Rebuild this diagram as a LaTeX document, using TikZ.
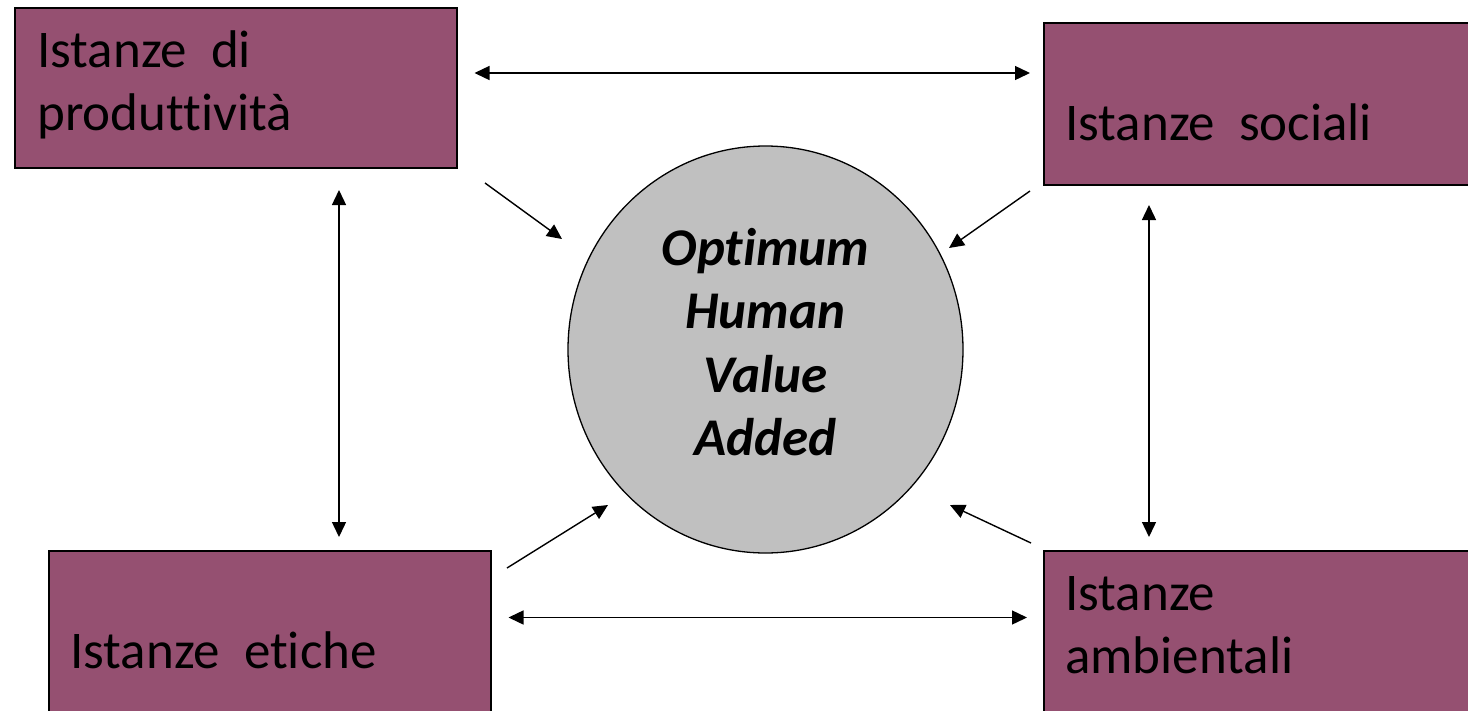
\documentclass[tikz,border=0pt]{standalone}
\usepackage{fontspec}
\setmainfont[Ligatures={NoCommon}]{Carlito}
\usetikzlibrary{arrows.meta,shapes.geometric}
\definecolor{boxfill}{RGB}{149,80,113}
\definecolor{circfill}{RGB}{192,192,192}
\tikzset{
  box/.style={draw=black,line width=1.3pt,fill=boxfill,rectangle,inner sep=0pt,minimum width=442pt},
  boxtext/.style={anchor=base west,inner sep=0pt,font=\fontsize{53}{63.5}\selectfont},
  circtext/.style={anchor=base,inner sep=0pt,font=\fontsize{53}{63.5}\selectfont\bfseries\itshape},
  link/.style={line width=1.4pt,-{Triangle[length=15pt,width=14pt]}},
  dlink/.style={line width=1.4pt,{Triangle[length=15pt,width=14pt]}-{Triangle[length=15pt,width=14pt]}}
}
\begin{document}
\begin{tikzpicture}[x=1pt,y=-1pt]
\clip (0,0) rectangle (1468,710);
\fill[white] (0,0) rectangle (1468,710);
% boxes
\node[box,minimum height=160pt] (prod) at (236,88) {};
\node[box,minimum height=162pt] (soc) at (1265,104) {};
\node[box,minimum height=162pt] (eti) at (270,632) {};
\node[box,minimum height=162pt] (amb) at (1265,632) {};
% box texts
\node[boxtext] (prodA) at (37,67) {Istanze\ \ di};
\node[boxtext] (prodB) at (37,130.5) {produttività};
\node[boxtext] (socA) at (1065,140) {Istanze\ \ sociali};
\node[boxtext] (etiA) at (70,668) {Istanze\ \ etiche};
\node[boxtext] (ambA) at (1065,610) {Istanze};
\node[boxtext] (ambB) at (1065,673.5) {ambientali};
% circle
\node[draw=black,line width=1.3pt,fill=circfill,ellipse,inner sep=0pt,minimum width=395pt,minimum height=407pt] (ohva) at (765.5,349.5) {};
\node[circtext] (t1) at (765.5,265) {Optimum};
\node[circtext] (t2) at (765.5,328.5) {Human};
\node[circtext] (t3) at (765.5,392) {Value};
\node[circtext] (t4) at (765.5,455.5) {Added};
% arrow end points
\coordinate (hA1) at (474.5,73);
\coordinate (hA2) at (1030,73);
\coordinate (hB1) at (508.5,617.5);
\coordinate (hB2) at (1027,617.5);
\coordinate (vL1) at (339,190);
\coordinate (vL2) at (339,537);
\coordinate (vR1) at (1149,205);
\coordinate (vR2) at (1149,537);
\coordinate (d1s) at (485,183);
\coordinate (d1e) at (562,239);
\coordinate (d2s) at (1030,191);
\coordinate (d2e) at (949,248);
\coordinate (d3s) at (507,568);
\coordinate (d3e) at (608,505);
\coordinate (d4s) at (1031,543);
\coordinate (d4e) at (950,505);
% connectors
\draw[dlink] (hA1) -- (hA2);
\draw[dlink] (hB1) -- (hB2);
\draw[dlink] (vL1) -- (vL2);
\draw[dlink] (vR1) -- (vR2);
\draw[link] (d1s) -- (d1e);
\draw[link] (d2s) -- (d2e);
\draw[link] (d3s) -- (d3e);
\draw[link] (d4s) -- (d4e);
\end{tikzpicture}
\end{document}
